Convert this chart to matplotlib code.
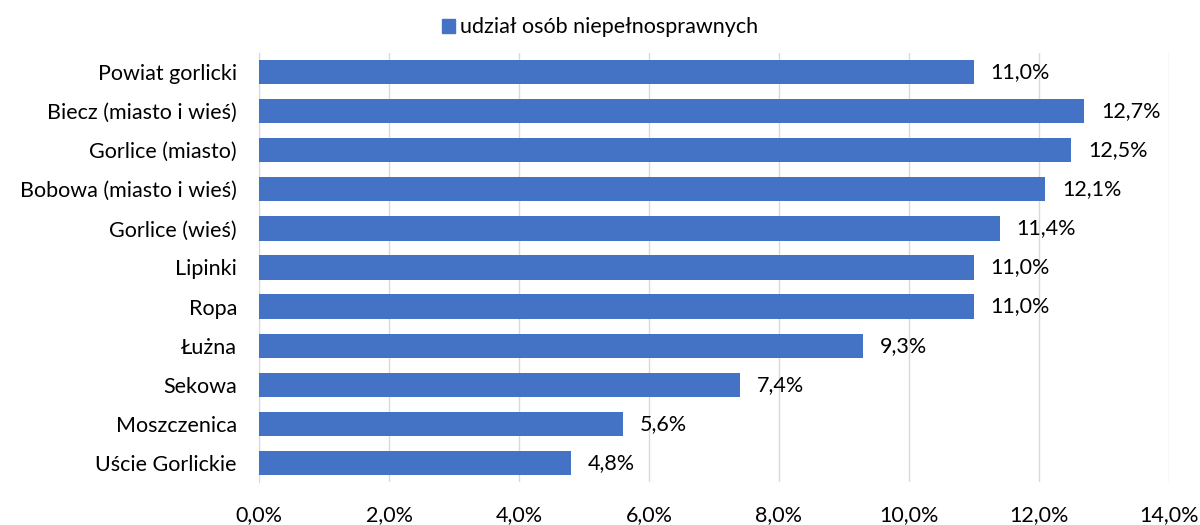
import matplotlib
matplotlib.use("Agg")
import matplotlib.pyplot as plt
from matplotlib.patches import Patch

categories = ["Powiat gorlicki", "Biecz (miasto i wieś)", "Gorlice (miasto)",
              "Bobowa (miasto i wieś)", "Gorlice (wieś)", "Lipinki", "Ropa",
              "Łużna", "Sekowa", "Moszczenica", "Uście Gorlickie"]
values = [11.0, 12.7, 12.5, 12.1, 11.4, 11.0, 11.0, 9.3, 7.4, 5.6, 4.8]
xticks = [0, 2, 4, 6, 8, 10, 12, 14]
series_name = "udział osób niepełnosprawnych"

plt.rcParams['font.family'] = ['Lato', 'DejaVu Sans']
color = "#4472C4"
fs = 15.5

fig = plt.figure(figsize=(12, 5.25), dpi=100)
ax = fig.add_axes([0.216, 0.081, 0.758, 0.819])

y = list(range(len(categories)))
ax.barh(y, values, height=0.62, color=color, zorder=3)
ax.set_ylim(len(categories) - 0.5, -0.5)
ax.set_xlim(0, 14)
ax.set_yticks(y)
ax.set_yticklabels(categories, fontsize=fs)
ax.set_xticks(xticks)
ax.set_xticklabels([f"{t:.1f}%".replace(".", ",") for t in xticks], fontsize=fs)
ax.tick_params(axis='both', length=0)
ax.tick_params(axis='x', pad=16)
ax.tick_params(axis='y', pad=16)
ax.grid(axis='x', color='#D9D9D9', linewidth=1, zorder=0)
for s in ['top', 'right', 'bottom']:
    ax.spines[s].set_visible(False)
ax.spines['left'].set_color('#D9D9D9')

for yi, v in zip(y, values):
    ax.annotate(f"{v:.1f}%".replace(".", ","), (v, yi), xytext=(12, 0),
                textcoords='offset points', va='center', ha='left', fontsize=fs)

fig.legend(handles=[Patch(color=color)], labels=[series_name], loc='center',
           bbox_to_anchor=(0.5, 0.948), frameon=False, fontsize=fs,
           handlelength=0.6, handleheight=0.6, handletextpad=0.25)

fig.savefig("out.png", dpi=100)
